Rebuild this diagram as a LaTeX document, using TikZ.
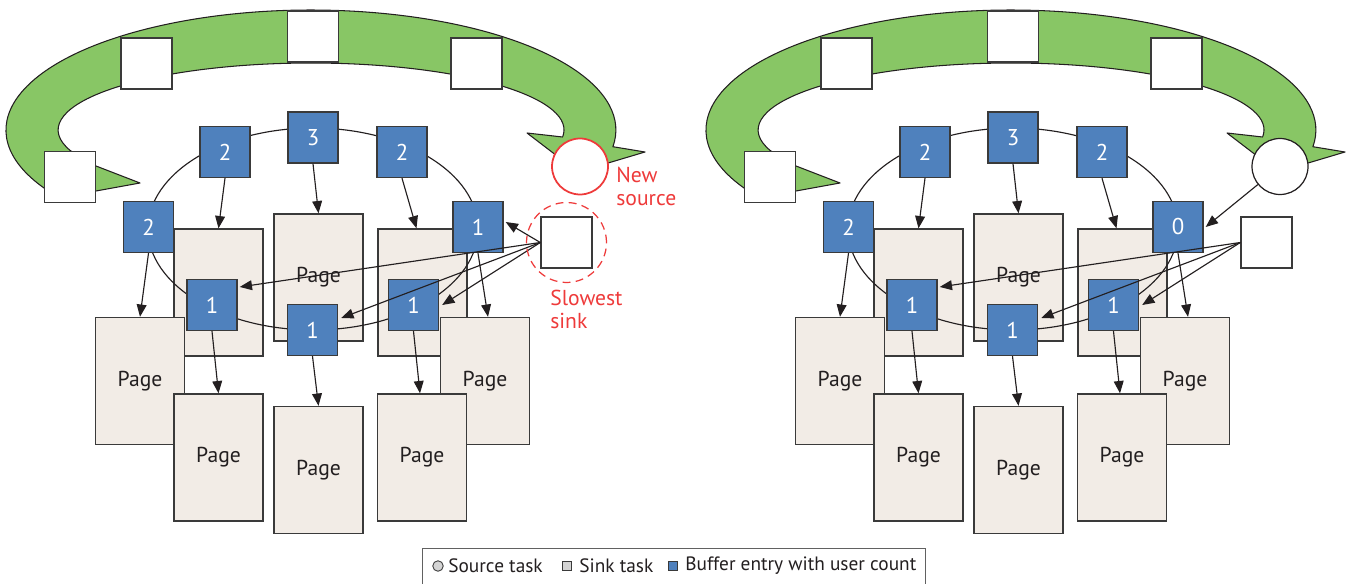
\documentclass[tikz,border=0pt]{standalone}
\usepackage{fontspec}
\setmainfont{PT Sans}
\usetikzlibrary{arrows.meta,calc}
\definecolor{bandgreen}{HTML}{88C665}
\definecolor{bufblue}{HTML}{4F81BD}
\definecolor{pagefill}{HTML}{F2ECE6}
\definecolor{edgegray}{HTML}{3A3A3A}
\definecolor{alertred}{HTML}{EE3A3A}
\definecolor{inkblack}{HTML}{231F20}
\definecolor{legendgray}{HTML}{D4D4D4}
\tikzset{
  pagebox/.style={draw=edgegray, fill=pagefill, line width=0.8pt, minimum width=1.78cm, minimum height=2.54cm, inner sep=0pt, text=inkblack, font=\fontsize{12.3}{14}\selectfont},
  bufbox/.style={draw=edgegray, fill=bufblue, line width=0.8pt, minimum width=1.0cm, minimum height=1.02cm, inner sep=0pt, text=white, font=\fontsize{13}{14}\selectfont},
  taskbox/.style={draw=edgegray, fill=white, line width=0.8pt, minimum size=1.02cm, inner sep=0pt},
  conn/.style={draw=inkblack, line width=0.65pt, -{Triangle[length=7pt,width=5.6pt]}},
  ringline/.style={draw=inkblack, line width=0.65pt},
  band/.style={draw=inkblack, line width=0.6pt, fill=bandgreen, line join=round},
  redlabel/.style={anchor=north west, align=left, inner sep=0pt, text=alertred, font=\fontsize{12.3}{13.2}\selectfont},
  legendtext/.style={anchor=west, inner sep=0pt, text=inkblack, font=\fontsize{11}{13}\selectfont},
  legendicon/.style={draw=edgegray, line width=0.5pt, inner sep=0pt},
}
\newcommand\drawpanel[3]{%
  \path[band] (#2+140,183) -- (#2+96,191) -- (#2+52.34,193.59)
    arc[start angle=212, end angle=-8, x radius=6.1cm, y radius=2.4cm]
    -- (#2+645,152) -- (#2+578,172) -- (#2+527,133) -- (#2+562.61,137.0)
    arc[start angle=-6, end angle=198, x radius=5.06cm, y radius=1.34cm]
    -- (#2+96,166) -- cycle;
  \node[taskbox] (#1s1) at (#2+146.5,63.5) {};
  \node[taskbox] (#1s2) at (#2+313,36.5) {};
  \node[taskbox] (#1s3) at (#2+476.5,63.5) {};
  \node[taskbox] (#1s4) at (#2+70,177) {};
  \node[taskbox] (#1sink) at (#2+566.5,242.5) {};
  \node[pagebox] (#1plb) at (#2+218.5,292.5) {};
  \node[pagebox] (#1pcb) at (#2+318.5,277.5) {Page};
  \node[pagebox] (#1prb) at (#2+422.5,292.5) {};
  \node[pagebox] (#1pfl) at (#2+140,381) {Page};
  \node[pagebox] (#1pfr) at (#2+485,381) {Page};
  \node[pagebox] (#1plf) at (#2+218.5,457.5) {Page};
  \node[pagebox] (#1pcf) at (#2+318.5,470) {Page};
  \node[pagebox] (#1prf) at (#2+422,457.5) {Page};
  \draw[ringline] (#2+313,229) ellipse [x radius=3.3cm, y radius=2.02cm];
  \node[bufbox] (#1btl) at (#2+225,152) {2};
  \node[bufbox] (#1bt) at (#2+313,137.5) {3};
  \node[bufbox] (#1btr) at (#2+402,152) {2};
  \node[bufbox] (#1bl) at (#2+148.5,227) {2};
  \node[bufbox] (#1br) at (#2+478,227) {#3};
  \node[bufbox] (#1bll) at (#2+212,305) {1};
  \node[bufbox] (#1bc) at (#2+312.5,330) {1};
  \node[bufbox] (#1blr) at (#2+413.5,305) {1};
  \draw[conn] (#1btl.south) -- (#1plb.north);
  \draw[conn] (#1bt.south) -- (#1pcb.north);
  \draw[conn] (#1btr.south) -- ($(#1prb.north)+(-6,0)$);
  \draw[conn] (#1bl.south) -- (#1pfl.north);
  \draw[conn] (#1br.south) -- ($(#1pfr.north)+(3,0)$);
  \draw[conn] (#1bll.south) -- (#1plf.north);
  \draw[conn] (#1bc.south) -- (#1pcf.north);
  \draw[conn] (#1blr.south) -- ($(#1prf.north)+(-2,0)$);
  \draw[conn] (#1sink.west) -- ($(#1bll.east)+(2,-18)$);
  \draw[conn] (#1sink.west) -- ($(#1bc.east)+(3,-12)$);
  \draw[conn] (#1sink.west) -- ($(#1blr.east)+(3,0)$);
}
\begin{document}
\begin{tikzpicture}[x=0.02cm, y=-0.02cm]
  \useasboundingbox (0,0) rectangle (1356,584);
  % left panel
  \drawpanel{L}{0}{1}
  \node[circle, draw=alertred, fill=white, line width=1pt, minimum size=1.12cm, inner sep=0pt] (Lsrc) at (580,166.5) {};
  \node[circle, draw=alertred, dash pattern=on 4.5pt off 3pt, line width=0.7pt, minimum size=1.6cm, inner sep=0pt] (Lsinkring) at (566.5,242.5) {};
  \draw[conn] (Lsink.west) -- ($(Lbr.east)+(2,-5)$);
  \node[redlabel] (Lnewsrc) at (616,167) {New\\source};
  \node[redlabel] (Lslow) at (550,290) {Slowest\\sink};
  % right panel
  \drawpanel{R}{700}{0}
  \node[circle, draw=inkblack, fill=white, line width=0.7pt, minimum size=1.12cm, inner sep=0pt] (Rsrc) at (1280,166.5) {};
  \draw[conn] (Rsrc) -- ($(Rbr.east)+(2,0)$);
  % legend
  \node[draw=edgegray!80, fill=white, line width=0.6pt, minimum width=10.08cm, minimum height=0.74cm, inner sep=0pt] (legend) at (674,567) {};
  \node[legendicon, circle, fill=legendgray, minimum size=0.21cm] (lgsrc) at (438,566) {};
  \node[legendtext] (lgsrct) at (448,566) {Source task};
  \node[legendicon, rectangle, fill=legendgray, minimum size=0.19cm] (lgsink) at (567,566) {};
  \node[legendtext] (lgsinkt) at (579,566) {Sink task};
  \node[legendicon, rectangle, fill=bufblue, minimum size=0.19cm] (lgbuf) at (673,566) {};
  \node[legendtext] (lgbuft) at (685,566) {Buffer entry with user count};
\end{tikzpicture}
\end{document}
